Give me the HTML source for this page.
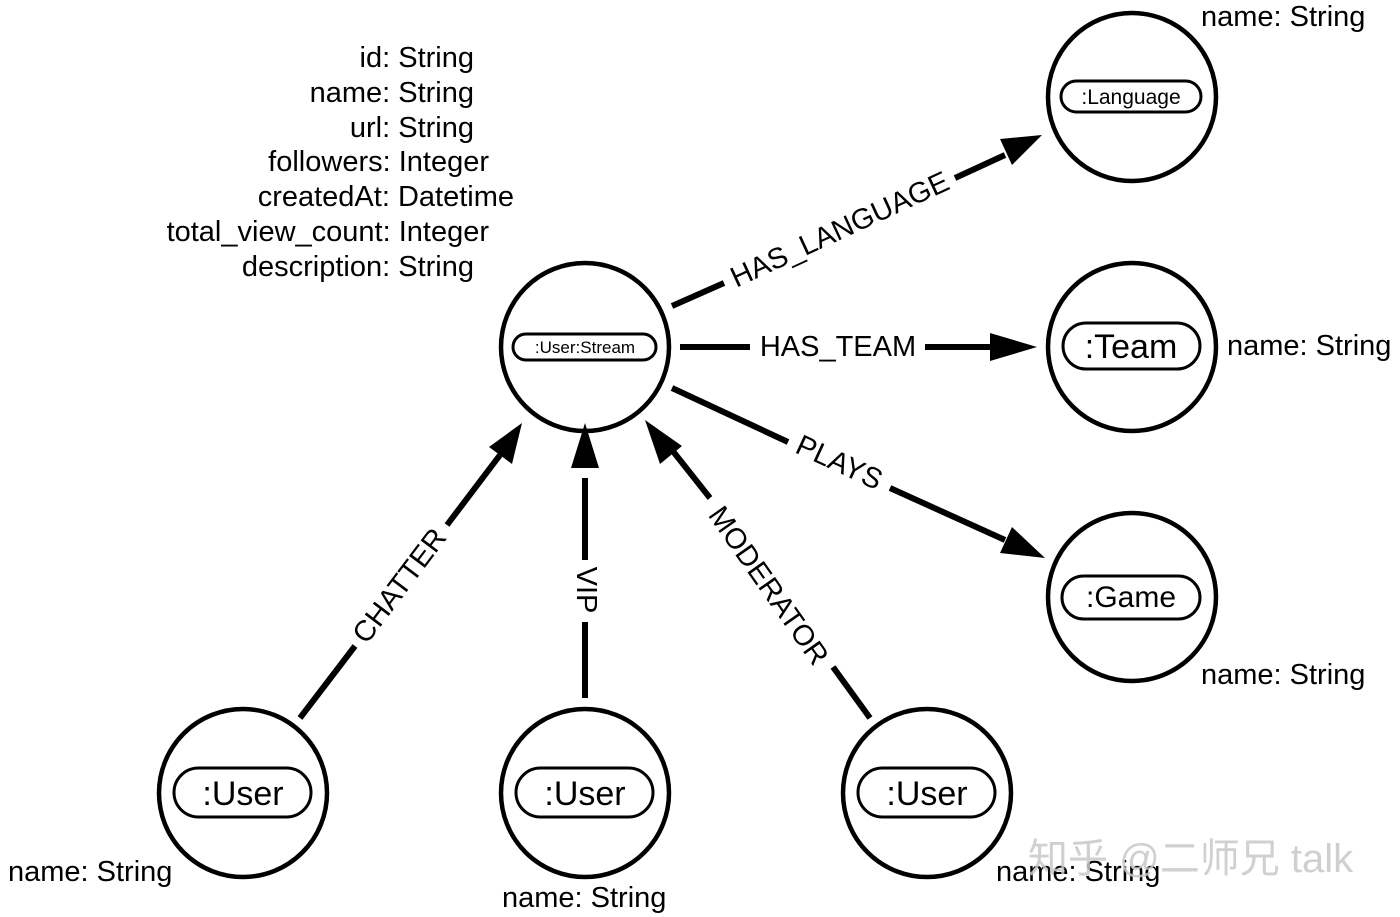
<!DOCTYPE html>
<html><head><meta charset="utf-8"><style>
body{margin:0;background:#fff}
svg{display:block}
text{font-family:"Liberation Sans","Noto Sans CJK SC",sans-serif;fill:#000}
</style></head><body>
<svg width="1400" height="917" viewBox="0 0 1400 917" xmlns="http://www.w3.org/2000/svg">
<g fill="none" stroke="#000" stroke-width="4.5">
<circle cx="585" cy="347" r="84"/>
<circle cx="1132" cy="97" r="84"/>
<circle cx="1132" cy="347" r="84"/>
<circle cx="1132" cy="597" r="84"/>
<circle cx="243" cy="793" r="84"/>
<circle cx="585" cy="793" r="84"/>
<circle cx="927" cy="793" r="84"/>
</g>
<g fill="none" stroke="#000" stroke-width="6">
<line x1="672" y1="306" x2="724" y2="283"/>
<line x1="955" y1="178" x2="1005" y2="155"/>
<line x1="680" y1="347" x2="750" y2="347"/>
<line x1="925" y1="347" x2="995" y2="347"/>
<line x1="672" y1="388" x2="788" y2="442"/>
<line x1="890" y1="488" x2="1005" y2="540"/>
<line x1="300" y1="718" x2="355" y2="646"/>
<line x1="447" y1="525" x2="500" y2="455"/>
<line x1="585" y1="698" x2="585" y2="622"/>
<line x1="585" y1="560" x2="585" y2="478"/>
<line x1="870" y1="718" x2="833" y2="667"/>
<line x1="710" y1="498" x2="672" y2="450"/>
</g>
<g fill="#000">
<polygon points="1042,135 1000,139 1012,165"/>
<polygon points="1037,347 990,333 990,361"/>
<polygon points="1045,558 1012,527 1000,553"/>
<polygon points="522,423 489,447 512,464"/>
<polygon points="585,423 571,468 599,468"/>
<polygon points="645,420 660,464 682,446"/>
</g>
<g font-size="29">
<text transform="translate(840,230) rotate(-24.8)" text-anchor="middle" dominant-baseline="central">HAS_LANGUAGE</text>
<text x="838" y="356" text-anchor="middle">HAS_TEAM</text>
<text transform="translate(839,463) rotate(24.8)" text-anchor="middle" dominant-baseline="central">PLAYS</text>
<text transform="translate(400,586) rotate(-53)" text-anchor="middle" dominant-baseline="central">CHATTER</text>
<text transform="translate(586,590) rotate(90)" text-anchor="middle" dominant-baseline="central">VIP</text>
<text transform="translate(768,586) rotate(55)" text-anchor="middle" dominant-baseline="central">MODERATOR</text>
</g>
<g fill="#fff" stroke="#000" stroke-width="3">
<rect x="513" y="334" width="143" height="26" rx="13"/>
<rect x="1061" y="81" width="140" height="31" rx="15.5"/>
<rect x="1063" y="323" width="137" height="46" rx="23"/>
<rect x="1062" y="576" width="138" height="43" rx="21.5"/>
<rect x="174" y="768" width="137" height="49" rx="24.5"/>
<rect x="516" y="768" width="137" height="49" rx="24.5"/>
<rect x="858" y="768" width="137" height="49" rx="24.5"/>
</g>
<text x="585" y="353" font-size="17" text-anchor="middle">:User:Stream</text>
<text x="1131" y="104" font-size="21" text-anchor="middle">:Language</text>
<text x="1131" y="358" font-size="34" text-anchor="middle">:Team</text>
<text x="1131" y="607" font-size="30" text-anchor="middle">:Game</text>
<text x="243" y="805" font-size="34" text-anchor="middle">:User</text>
<text x="585" y="805" font-size="34" text-anchor="middle">:User</text>
<text x="927" y="805" font-size="34" text-anchor="middle">:User</text>
<g font-size="29">
<text x="474" y="67" text-anchor="end">id: String</text>
<text x="474" y="102" text-anchor="end">name: String</text>
<text x="474" y="137" text-anchor="end">url: String</text>
<text x="489" y="171" text-anchor="end">followers: Integer</text>
<text x="514" y="206" text-anchor="end">createdAt: Datetime</text>
<text x="489" y="241" text-anchor="end">total_view_count: Integer</text>
<text x="474" y="276" text-anchor="end">description: String</text>
<text x="1201" y="26">name: String</text>
<text x="1227" y="355">name: String</text>
<text x="1201" y="684">name: String</text>
<text x="8" y="881">name: String</text>
<text x="502" y="907">name: String</text>
<text x="996" y="881">name: String</text>
</g>
<text x="1028" y="872" font-size="40" style="fill:#c8c8c8;opacity:.85">知乎 @二师兄 talk</text>
</svg>
</body></html>
